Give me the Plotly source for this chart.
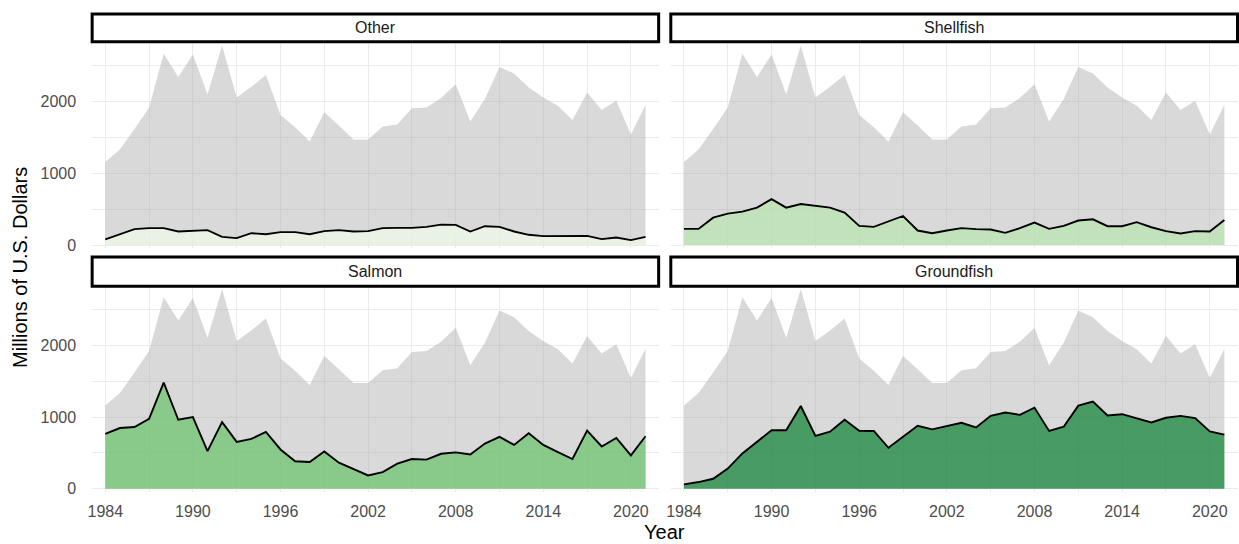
import plotly.graph_objects as go

# ---------------- data (millions of U.S. dollars) ----------------
years = [1984, 1985, 1986, 1987, 1988, 1989, 1990, 1991, 1992, 1993,
         1994, 1995, 1996, 1997, 1998, 1999, 2000, 2001, 2002, 2003,
         2004, 2005, 2006, 2007, 2008, 2009, 2010, 2011, 2012, 2013,
         2014, 2015, 2016, 2017, 2018, 2019, 2020, 2021]

total = [1159, 1335, 1621, 1921, 2670, 2346, 2660, 2106, 2785, 2060,
         2208, 2374, 1815, 1644, 1446, 1852, 1667, 1473, 1473, 1654,
         1681, 1908, 1921, 2051, 2245, 1723, 2037, 2485, 2393, 2199,
         2060, 1945, 1746, 2129, 1885, 2014, 1543, 1954]

other = [79, 152, 222, 236, 236, 189, 199, 208, 115, 97,
         166, 152, 180, 180, 152, 194, 208, 189, 194, 236,
         240, 240, 254, 286, 282, 189, 263, 254, 189, 143,
         125, 125, 125, 129, 83, 106, 69, 115]

shellfish = [226, 226, 383, 439, 467, 522, 642, 522, 573, 545,
             522, 453, 268, 254, 328, 406, 203, 166, 203, 236,
             222, 217, 171, 236, 314, 226, 268, 342, 360, 263,
             263, 319, 249, 194, 162, 194, 189, 351]

salmon = [763, 846, 860, 975, 1480, 961, 998, 524, 929, 653,
          694, 791, 547, 382, 372, 520, 363, 271, 184, 230,
          349, 414, 405, 487, 506, 478, 630, 722, 611, 772,
          611, 510, 414, 809, 589, 708, 464, 731]

groundfish = [60, 92, 138, 280, 492, 648, 814, 814, 1154, 736,
              795, 961, 809, 805, 570, 726, 878, 828, 874, 920,
              855, 1016, 1062, 1030, 1131, 805, 864, 1159, 1214, 1021,
              1039, 979, 924, 989, 1016, 984, 800, 754]

panel_titles = ["Other", "Shellfish", "Salmon", "Groundfish"]
panel_series = [other, shellfish, salmon, groundfish]
x_tick_values = [1984, 1990, 1996, 2002, 2008, 2014, 2020]
y_tick_values = [0, 1000, 2000]

# ---------------- styling ----------------
W, H = 1239, 544
FONT = "Liberation Sans, Arial, sans-serif"
species_fills = ["rgba(237,248,233,0.8)", "rgba(186,228,179,0.8)",
                 "rgba(116,196,118,0.8)", "rgba(35,139,69,0.8)"]
total_fill = "rgba(170,170,170,0.45)"
grid_col = "#ebebeb"

def px_x(p):
    return p / W

def px_y(p):
    return (H - p) / H

col_px = [(87.5, 656.3), (668.5, 1237.5)]
row_px = [(43.7, 250.7), (290.0, 497.0)]   # plot area top/bottom (pixels from top)
strip_px = [(14.2, 42.2), (259.8, 289.5)]

x_range = [1983.1, 2021.9]
y_range = [-40, 2817]

fig = go.Figure()

layout_axes = {}
shapes = []
annotations = []
for i, (title, series) in enumerate(zip(panel_titles, panel_series)):
    r, c = divmod(i, 2)
    n = i + 1
    xa = "x" if n == 1 else f"x{n}"
    ya = "y" if n == 1 else f"y{n}"
    fig.add_trace(go.Scatter(
        x=years, y=total, mode="lines", fill="tozeroy",
        fillcolor=total_fill, line=dict(width=0, color="rgba(0,0,0,0)"),
        xaxis=xa, yaxis=ya, showlegend=False, hoverinfo="skip"))
    fig.add_trace(go.Scatter(
        x=years, y=series, mode="lines", fill="tozeroy",
        fillcolor=species_fills[i], line=dict(width=1.9, color="black"),
        xaxis=xa, yaxis=ya, showlegend=False, name=title))

    x0, x1 = col_px[c]
    yt, yb = row_px[r]
    layout_axes["xaxis" if n == 1 else f"xaxis{n}"] = dict(
        domain=[px_x(x0), px_x(x1)], range=x_range, anchor=ya,
        tickmode="array", tickvals=x_tick_values,
        showticklabels=(r == 1), ticks="", ticklabelstandoff=8,
        showgrid=True, gridcolor=grid_col, gridwidth=1.2,
        minor=dict(tickmode="linear", tick0=x_tick_values[0], dtick=3,
                   showgrid=True, gridcolor=grid_col, gridwidth=0.8),
        zeroline=False, showline=False,
        tickfont=dict(family=FONT, size=16, color="#4d4d4d"))
    layout_axes["yaxis" if n == 1 else f"yaxis{n}"] = dict(
        domain=[px_y(yb), px_y(yt)], range=y_range, anchor=xa,
        tickmode="array", tickvals=y_tick_values,
        showticklabels=(c == 0), ticks="", ticklabelstandoff=15,
        showgrid=True, gridcolor=grid_col, gridwidth=1.2,
        minor=dict(tickmode="linear", tick0=0, dtick=500,
                   showgrid=True, gridcolor=grid_col, gridwidth=0.8),
        zeroline=False, showline=False,
        tickfont=dict(family=FONT, size=16, color="#4d4d4d"))

    st, sb = strip_px[r]
    shapes.append(dict(type="rect", xref="paper", yref="paper",
                       x0=px_x(x0), x1=px_x(x1), y0=px_y(sb), y1=px_y(st),
                       fillcolor="white", line=dict(color="black", width=3)))
    annotations.append(dict(text=title, xref="paper", yref="paper",
                            x=px_x((x0 + x1) / 2), y=px_y((st + sb) / 2),
                            xanchor="center", yanchor="middle", showarrow=False,
                            font=dict(family=FONT, size=16, color="#1a1a1a")))

annotations.append(dict(text="Year", xref="paper", yref="paper",
                        x=px_x(662), y=px_y(538), xanchor="center", yanchor="middle",
                        showarrow=False, font=dict(family=FONT, size=20, color="black")))
annotations.append(dict(text="Millions of U.S. Dollars", xref="paper", yref="paper",
                        x=px_x(15), y=px_y(270), xanchor="center", yanchor="middle",
                        textangle=-90, showarrow=False,
                        font=dict(family=FONT, size=20, color="black")))

fig.update_layout(
    width=W, height=H, margin=dict(l=0, r=0, t=0, b=0),
    paper_bgcolor="white", plot_bgcolor="white",
    shapes=shapes, annotations=annotations, showlegend=False,
    **layout_axes)

fig.write_html(
    "out.html",
    config={"displayModeBar": False},
    post_script="document.body.style.margin='0px';document.body.style.overflow='hidden';",
)
